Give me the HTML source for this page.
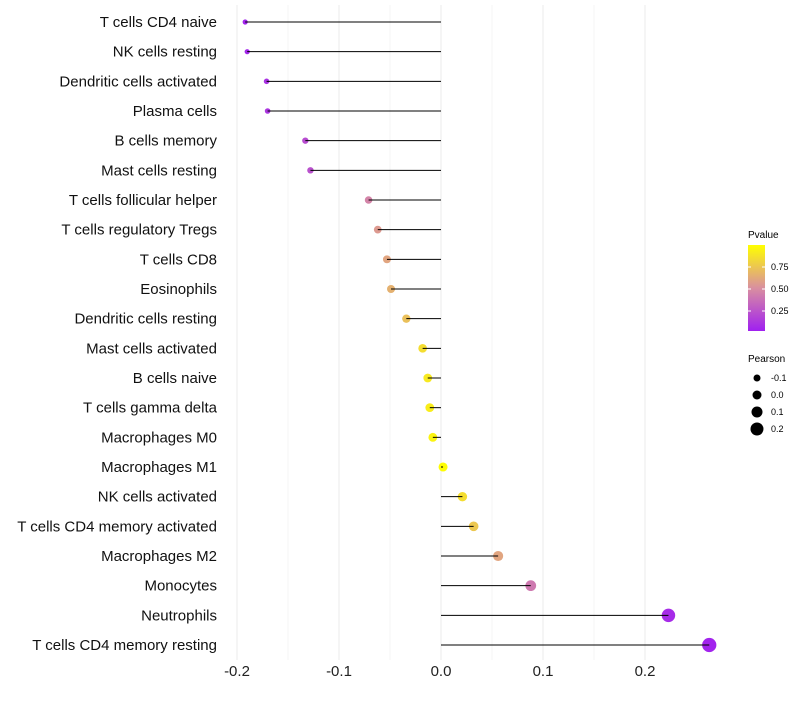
<!DOCTYPE html>
<html><head><meta charset="utf-8"><style>
body{margin:0;background:#fff;font-family:"Liberation Sans",sans-serif}
</style></head><body>
<svg id="c" width="800" height="700" xmlns="http://www.w3.org/2000/svg">
<defs><linearGradient id="g" x1="0" y1="1" x2="0" y2="0">
<stop offset="0" stop-color="#A020F0"/><stop offset="0.5" stop-color="#D98FA0"/><stop offset="1" stop-color="#FFFF00"/></linearGradient></defs>
<g id="grid"></g><g id="points"></g><g id="marks"></g><g id="labels"></g>
<g font-size="9" fill="#000">
<text x="748" y="238" font-size="10">Pvalue</text>
<rect x="748" y="245" width="17" height="86" fill="url(#g)"/>
<line x1="748" y1="267" x2="751" y2="267" stroke="#fff"/><line x1="762" y1="267" x2="765" y2="267" stroke="#fff"/>
<line x1="748" y1="289" x2="751" y2="289" stroke="#fff"/><line x1="762" y1="289" x2="765" y2="289" stroke="#fff"/>
<line x1="748" y1="311" x2="751" y2="311" stroke="#fff"/><line x1="762" y1="311" x2="765" y2="311" stroke="#fff"/>
<text x="771" y="270">0.75</text><text x="771" y="292">0.50</text><text x="771" y="314">0.25</text>
</g>
<g font-size="9" fill="#000">
<text x="748" y="362" font-size="10">Pearson</text>
<circle cx="757" cy="378" r="3.5"/><text x="771" y="381">-0.1</text>
<circle cx="757" cy="395" r="4.5"/><text x="771" y="398">0.0</text>
<circle cx="757" cy="412" r="5.5"/><text x="771" y="415">0.1</text>
<circle cx="757" cy="429" r="6.5"/><text x="771" y="432">0.2</text>
</g>
</svg>
<script>
const cells=["T cells CD4 naive","NK cells resting","Dendritic cells activated","Plasma cells","B cells memory","Mast cells resting","T cells follicular helper","T cells regulatory  Tregs ","T cells CD8","Eosinophils","Dendritic cells resting","Mast cells activated","B cells naive","T cells gamma delta","Macrophages M0","Macrophages M1","NK cells activated","T cells CD4 memory activated","Macrophages M2","Monocytes","Neutrophils","T cells CD4 memory resting"];
const pearson=[-0.192,-0.190,-0.171,-0.170,-0.133,-0.128,-0.071,-0.062,-0.053,-0.049,-0.034,-0.018,-0.013,-0.011,-0.008,0.002,0.021,0.032,0.056,0.088,0.223,0.263];
const pvalue=[0.02,0.03,0.08,0.1,0.2,0.22,0.45,0.55,0.6,0.65,0.72,0.85,0.9,0.92,0.95,0.99,0.85,0.75,0.6,0.4,0.05,0.02];
const ticks=[-0.2,-0.1,0.0,0.1,0.2];
const tickLabels=["-0.2","-0.1","0.0","0.1","0.2"];
const NS="http://www.w3.org/2000/svg";
const x=v=>441+v*1020;
const y=i=>22+i*(623/(cells.length-1));
const r=v=>4.5+10*v;
function mix(a,b,t){return a.map((c,k)=>Math.round(c+(b[k]-c)*t));}
function col(p){const A=[160,32,240],M=[217,143,160],B=[255,255,0];const c=p<0.5?mix(A,M,p/0.5):mix(M,B,(p-0.5)/0.5);return `rgb(${c})`;}
function mk(t,a,parent){const e=document.createElementNS(NS,t);for(const k in a)e.setAttribute(k,a[k]);document.getElementById(parent).appendChild(e);return e;}
for(let k=0;k<ticks.length;k++){
 const g=mk("line",{x1:x(ticks[k]),x2:x(ticks[k]),y1:5,y2:660,stroke:"#ebebeb","stroke-width":1},"grid");
 
 
 if(k<ticks.length-1){const m=mk("line",{x1:x(ticks[k]+0.05),x2:x(ticks[k]+0.05),y1:5,y2:660,stroke:"#f4f4f4","stroke-width":1},"grid");
 
 }
 const t=mk("text",{x:x(ticks[k]),y:676,"text-anchor":"middle","font-size":15,fill:"#222"},"labels");
 t.textContent=tickLabels[k];
 
 
}
cells.forEach((c,i)=>{
 const p=mk("circle",{cx:x(pearson[i]),cy:y(i),r:r(pearson[i]),fill:col(pvalue[i])},"points");
 
 
 const l=mk("line",{x1:x(0),x2:x(pearson[i]),y1:y(i),y2:y(i),stroke:"#000","stroke-width":1},"marks");
 
 
 const t=mk("text",{x:217,y:y(i)+5,"text-anchor":"end","font-size":15,fill:"#111","xml:space":"preserve"},"labels");
 t.textContent=c;
 
 
});
</script>
</body></html>
